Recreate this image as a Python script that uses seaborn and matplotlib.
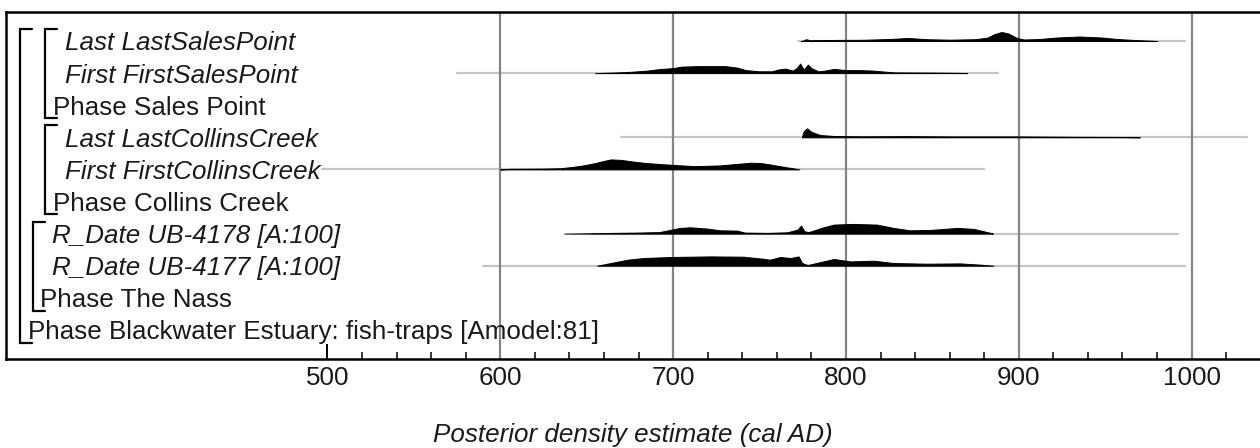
import numpy as np
import pandas as pd
import matplotlib
matplotlib.use("Agg")
import matplotlib.pyplot as plt
import seaborn as sns
from matplotlib.transforms import blended_transform_factory
from matplotlib.ticker import FixedLocator

# row labels, top to bottom
LABELS = [
    "Last LastSalesPoint",
    "First FirstSalesPoint",
    "Phase Sales Point",
    "Last LastCollinsCreek",
    "First FirstCollinsCreek",
    "Phase Collins Creek",
    "R_Date UB-4178 [A:100]",
    "R_Date UB-4177 [A:100]",
    "Phase The Nass",
    "Phase Blackwater Estuary: fish-traps [Amodel:81]",
]
ITALIC = [True, True, False, True, True, False, True, True, False, False]

# extent of the thin grey range line for each row (cal AD), None = no distribution
RANGE_START = [772, 575, None, 670, 497, None, 653, 590, None, None]
RANGE_END = [996, 888, None, 1032, 880, None, 992, 996, None, None]

# posterior density outlines (year, relative height)
LAST_SALES_YR = [774, 775.5, 777, 779, 790, 810, 825, 836, 847, 860, 875, 882, 886, 890,
                 894, 899, 903, 912, 922, 935, 948, 957, 965, 975, 980]
LAST_SALES_H = [0, 0.6, 1.8, 0.8, 1.0, 1.2, 2.0, 3.0, 1.8, 1.3, 1.8, 3.5, 7, 9,
                7.5, 3, 1.5, 2, 3.5, 4.5, 3.5, 2, 1.2, 0.4, 0]

FIRST_SALES_YR = [655, 665, 675, 685, 692, 700, 705, 715, 730, 737, 742, 750, 757, 762,
                  765, 769, 771.5, 773.5, 775.5, 778, 780, 784, 788, 793, 800, 808, 816,
                  822, 828, 850, 866, 870]
FIRST_SALES_H = [0, 0.5, 1.2, 2.5, 4, 5, 6.5, 7, 7, 5.5, 3, 1.8, 1.8, 4,
                 4.5, 2.5, 5, 9.5, 3.5, 8.5, 5, 1.8, 2.5, 4.2, 3, 3, 2.5,
                 1.5, 0.7, 0.5, 0.2, 0]

LAST_COLLINS_YR = [774.5, 775.5, 777.5, 780, 785, 793, 810, 835, 860, 899, 930, 960, 970]
LAST_COLLINS_H = [0, 6, 9, 5.5, 2.3, 1.3, 1.0, 1.2, 0.9, 0.9, 0.5, 0.3, 0]

FIRST_COLLINS_YR = [600, 606, 625, 635, 642, 648, 654, 660, 664, 670, 677.5, 685, 693,
                    702, 712, 720, 727, 737, 745, 751, 756, 761, 766, 770, 773]
FIRST_COLLINS_H = [0, 0.6, 0.8, 1.2, 2.5, 4, 6, 8.5, 10, 9.5, 7.7, 6.3, 5.3,
                   4.3, 3.3, 3.6, 4, 5.5, 6.7, 6.3, 5, 3.5, 2, 1, 0]

UB4178_YR = [637, 679, 692, 704, 710, 720, 727, 737, 741.5, 754.6, 766, 772, 774, 776,
             778.5, 787, 793, 804, 818, 827.5, 837, 849, 864.6, 874, 883.7, 885]
UB4178_H = [0, 1, 1.5, 5.7, 6.3, 5, 3.3, 3, 1, 0.7, 1.3, 4, 8, 2.3,
            1.5, 6.3, 9, 9.7, 9, 5.7, 3.3, 3.7, 5.7, 4.7, 0.7, 0]

UB4177_YR = [656, 664, 673.6, 683, 698.5, 721.6, 740.7, 752, 756, 762, 768, 772.6, 774.6,
             777.8, 787, 793, 802.7, 816, 827.5, 847, 866, 878, 885.4]
UB4177_H = [0, 2.7, 6, 7.7, 8.7, 9.3, 9, 7, 6, 8.7, 7.7, 9.3, 2.7,
            0.7, 4.3, 6.7, 4.3, 5, 2.7, 2, 2.3, 1, 0]

DENSITIES = {
    0: (LAST_SALES_YR, LAST_SALES_H),
    1: (FIRST_SALES_YR, FIRST_SALES_H),
    3: (LAST_COLLINS_YR, LAST_COLLINS_H),
    4: (FIRST_COLLINS_YR, FIRST_COLLINS_H),
    6: (UB4178_YR, UB4178_H),
    7: (UB4177_YR, UB4177_H),
}

# (first row, last row, bracket x in px) for each Phase
BRACKETS = [(0, 9, 20), (0, 2, 45), (3, 5, 45), (6, 8, 33)]
LABEL_X_PX = [65, 65, 53, 65, 65, 53, 52, 52, 40, 28]

MAJOR_TICKS = [500, 600, 700, 800, 900, 1000]
MINOR_TICKS = list(range(500, 1040, 20))
GRID_YEARS = [600, 700, 800, 900, 1000]
XLIM = (314, 1039)

ROW_PX = 32.1           # px per row
AX_LEFT, AX_RIGHT = 6, 1259
AX_TOP, AX_BOTTOM = 12, 359
W, H = 1260, 448
FS = 18.7

sns.set_theme(style="white")
plt.rcParams["font.family"] = ["Liberation Sans", "DejaVu Sans"]

fig = plt.figure(figsize=(W / 100, H / 100), dpi=100)
ax = fig.add_axes([AX_LEFT / W, 1 - AX_BOTTOM / H,
                   (AX_RIGHT - AX_LEFT) / W, (AX_BOTTOM - AX_TOP) / H])

ax.set_xlim(*XLIM)
# row 0 baseline sits 29 px below the top frame
ax.set_ylim((AX_BOTTOM - 41) / ROW_PX, -(41 - AX_TOP) / ROW_PX)

# grey range lines
rng = pd.DataFrame([
    {"row": i, "year": y}
    for i, (s, e) in enumerate(zip(RANGE_START, RANGE_END)) if s is not None
    for y in (s, e)
])
sns.lineplot(data=rng, x="year", y="row", units="row", estimator=None,
             color="#c6c6c6", lw=1.6, ax=ax, zorder=1, legend=False)

for yr in GRID_YEARS:
    ax.axvline(yr, color="#858585", lw=1.6, zorder=2)

for row, (yrs, hs) in DENSITIES.items():
    yrs = np.asarray(yrs)
    top = row - np.asarray(hs) / ROW_PX
    ax.fill_between(yrs, row, top, color="black", lw=0.7, edgecolor="black", zorder=3)

trans = blended_transform_factory(ax.transAxes, ax.transData)
def px2ax(px):
    return (px - AX_LEFT) / (AX_RIGHT - AX_LEFT)

for i, lab in enumerate(LABELS):
    ax.text(px2ax(LABEL_X_PX[i]), i, lab, transform=trans, fontsize=FS,
            style="italic" if ITALIC[i] else "normal", color="#1a1a1a",
            va="center_baseline", ha="left", zorder=4)

for first, last, xpx in BRACKETS:
    top = first - 0.37
    bot = last + 0.4
    x0, x1 = px2ax(xpx), px2ax(xpx + 12)
    ax.plot([x1, x0, x0, x1], [top, top, bot, bot], color="black", lw=1.6,
            transform=trans, zorder=4, solid_joinstyle="miter")

ax.set_ylabel("")
ax.set_yticks([])
ax.xaxis.set_major_locator(FixedLocator(MAJOR_TICKS))
ax.xaxis.set_minor_locator(FixedLocator(MINOR_TICKS))
ax.tick_params(axis="x", which="major", direction="in", length=10.5, width=1.4,
               colors="black", labelsize=FS, pad=5, bottom=True)
ax.tick_params(axis="x", which="minor", direction="in", length=5, width=1.1,
               colors="black", bottom=True)
for lab in ax.get_xticklabels():
    lab.set_color("#1a1a1a")

for side in ["top", "left", "bottom"]:
    ax.spines[side].set_visible(True)
    ax.spines[side].set_color("black")
    ax.spines[side].set_linewidth(1.8)
ax.spines["right"].set_visible(False)

ax.set_xlabel("Posterior density estimate (cal AD)", fontsize=FS, style="italic",
              color="#1a1a1a", labelpad=24)

fig.savefig("out.png", dpi=100)
